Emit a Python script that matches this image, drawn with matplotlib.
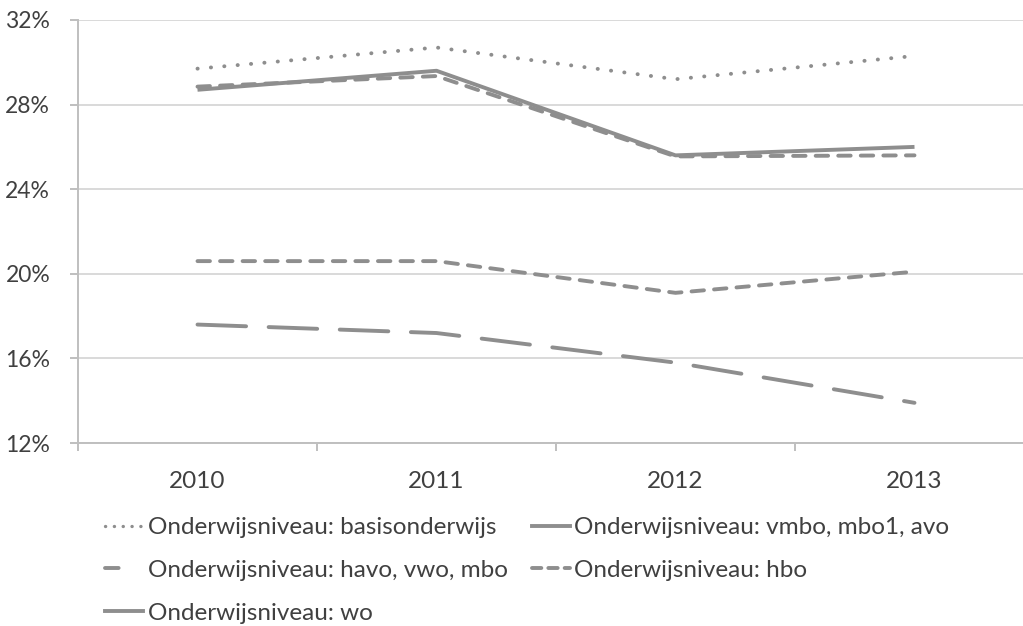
import matplotlib
matplotlib.use('Agg')
import matplotlib.pyplot as plt
from matplotlib.lines import Line2D
from matplotlib.ticker import FixedLocator, FuncFormatter

# ── Data ──────────────────────────────────────────────────────────────────────
years = ['2010', '2011', '2012', '2013']
basisonderwijs = [29.7, 30.7, 29.2, 30.3]
vmbo_mbo1_avo = [28.7, 29.6, 25.6, 26.0]
havo_vwo_mbo = [17.6, 17.2, 15.8, 13.9]
hbo = [20.6, 20.6, 19.1, 20.1]
wo = [28.85, 29.35, 25.55, 25.6]

labels = ['Onderwijsniveau: basisonderwijs', 'Onderwijsniveau: vmbo, mbo1, avo',
          'Onderwijsniveau: havo, vwo, mbo', 'Onderwijsniveau: hbo',
          'Onderwijsniveau: wo']

# ── Style ─────────────────────────────────────────────────────────────────────
GREY = '#8e8e8e'
GRID = '#d9d9d9'
TXT = '#404040'
plt.rcParams['font.family'] = ['Lato', 'DejaVu Sans']

DOT = (0, (0.05, 3.4))
SHORT = (0, (3.2, 2.6))
LONG = (0, (12.5, 5.8))

fig = plt.figure(figsize=(10.23, 6.26), dpi=100)
ax = fig.add_axes([78 / 1023, 1 - 443 / 626, (1023 - 78) / 1023, 423 / 626])

x = range(len(years))
lw = 2.8
ax.plot(x, basisonderwijs, color=GREY, lw=lw, ls=DOT, dash_capstyle='round')
ax.plot(x, hbo, color=GREY, lw=lw, ls=SHORT, dash_capstyle='round')
ax.plot(x, havo_vwo_mbo, color=GREY, lw=lw, ls=LONG, dash_capstyle='round')
ax.plot(x, wo, color=GREY, lw=lw, ls=SHORT, dash_capstyle='round')
ax.plot(x, vmbo_mbo1_avo, color=GREY, lw=lw, solid_capstyle='butt')

ax.set_ylim(12, 32)
ax.set_xlim(-0.5, -0.5 + 945 / 239)
ax.yaxis.set_major_locator(FixedLocator([12, 16, 20, 24, 28, 32]))
ax.yaxis.set_major_formatter(FuncFormatter(lambda v, _: f'{v:.0f}%'))
ax.grid(axis='y', color=GRID, lw=1.4)
ax.set_axisbelow(True)

ax.set_xticks(list(x))
ax.set_xticklabels(years)
ax.xaxis.set_minor_locator(FixedLocator([-0.5, 0.5, 1.5, 2.5, 3.5]))
ax.tick_params(axis='x', which='major', length=0, pad=20, labelsize=17.5, labelcolor=TXT)
ax.tick_params(axis='x', which='minor', length=6, width=1.4, color='#bfbfbf')
ax.tick_params(axis='y', length=6, width=1.4, color='#bfbfbf', pad=14,
               labelsize=16.5, labelcolor=TXT)

for s in ['top', 'right']:
    ax.spines[s].set_visible(False)
for s in ['left', 'bottom']:
    ax.spines[s].set_color('#bfbfbf')
    ax.spines[s].set_linewidth(1.4)

# ── Legend ────────────────────────────────────────────────────────────────────
h_basis = Line2D([], [], color=GREY, lw=2.4, ls=(0, (0.05, 2.6)), dash_capstyle='round')
h_vmbo = Line2D([], [], color=GREY, lw=lw)
h_havo = Line2D([], [], color=GREY, lw=lw, ls=(0, (3.5, 20)), dash_capstyle='round')
h_hbo = Line2D([], [], color=GREY, lw=lw, ls=(0, (2.4, 1.8)), dash_capstyle='round')
h_wo = Line2D([], [], color=GREY, lw=lw)

handles = [h_basis, h_havo, h_wo, h_vmbo, h_hbo]
order = [labels[0], labels[2], labels[4], labels[1], labels[3]]
leg = fig.legend(handles, order, ncol=2, loc='upper left',
                 bbox_to_anchor=(105 / 1023, 1 - 517 / 626), frameon=False,
                 fontsize=17.5, handlelength=1.55, handletextpad=0.2,
                 columnspacing=1.0, labelspacing=0.9, borderaxespad=0,
                 borderpad=0)
for t in leg.get_texts():
    t.set_color(TXT)

fig.savefig('out.png', dpi=100)
